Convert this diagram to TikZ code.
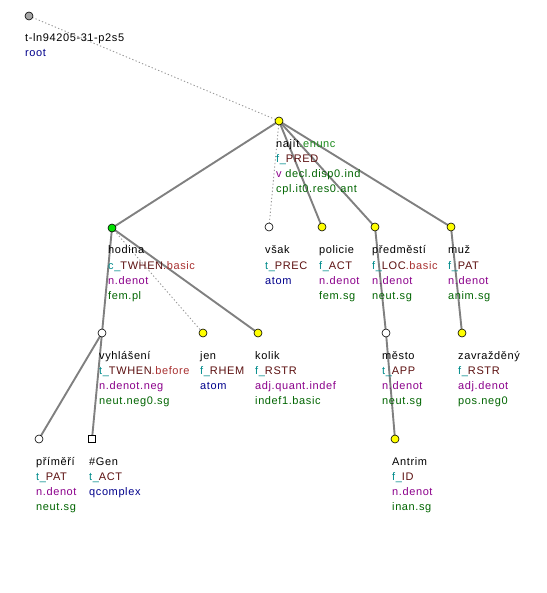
\documentclass[tikz,border=0pt]{standalone}
\usepackage{fontspec}
\setmainfont{Liberation Sans}[LetterSpace=5.5]
\definecolor{cteal}{HTML}{008B8B}
\definecolor{cfun}{HTML}{5C1010}
\definecolor{csub}{HTML}{A83030}
\definecolor{cpur}{HTML}{8B008B}
\definecolor{cgrn}{HTML}{006400}
\definecolor{cgrn2}{HTML}{1A8A1A}
\definecolor{cblu}{HTML}{00008B}
\definecolor{cyel}{HTML}{FFFF00}
\definecolor{cgn}{HTML}{00E000}
\newcommand\lns[1]{\begin{tabular}[t]{@{}l@{}}#1\end{tabular}}
\newcommand\fn[2]{\textcolor{cteal}{#1}\textcolor{cfun}{#2}}
\newcommand\pu[1]{\textcolor{cpur}{#1}}
\newcommand\gr[1]{\textcolor{cgrn}{#1}}
\newcommand\bl[1]{\textcolor{cblu}{#1}}
\tikzset{
  tnode/.style={circle,draw=black,line width=0.6pt,inner sep=0pt,minimum size=8pt},
  yel/.style={tnode,fill=cyel},
  wht/.style={tnode,fill=white},
  sq/.style={rectangle,draw=black,line width=0.6pt,fill=white,inner sep=0pt,minimum size=7pt},
  edge/.style={draw=gray,line width=1.9pt},
  dotedge/.style={draw=gray!80,line width=0.9pt,dash pattern=on 1.3pt off 2.2pt},
  lbl/.style={anchor=base west,inner sep=0pt,font=\fontsize{11}{15}\selectfont}
}
\begin{document}
\begin{tikzpicture}[x=1pt,y=-1pt]
\useasboundingbox (0,0) rectangle (546,593);
% node positions
\coordinate (root) at (29,16);
\coordinate (najit) at (279,121);
\coordinate (hodina) at (112,228);
\coordinate (vsak) at (269,227);
\coordinate (policie) at (322,227);
\coordinate (predmesti) at (375,227);
\coordinate (muz) at (451,227);
\coordinate (vyhlaseni) at (102,333);
\coordinate (jen) at (203,333);
\coordinate (kolik) at (258,333);
\coordinate (mesto) at (386,333);
\coordinate (zavrazdeny) at (462,333);
\coordinate (primeri) at (39,439);
\coordinate (gen) at (92,439);
\coordinate (antrim) at (395,439);
% edges
\path[dotedge] (root) -- (najit);
\path[edge] (najit) -- (hodina);
\path[dotedge] (najit) -- (vsak);
\path[edge] (najit) -- (policie);
\path[edge] (najit) -- (predmesti);
\path[edge] (najit) -- (muz);
\path[edge] (hodina) -- (vyhlaseni);
\path[dotedge] (hodina) -- (jen);
\path[edge] (hodina) -- (kolik);
\path[edge] (vyhlaseni) -- (primeri);
\path[edge] (vyhlaseni) -- (gen);
\path[edge] (predmesti) -- (mesto);
\path[edge] (mesto) -- (antrim);
\path[edge] (muz) -- (zavrazdeny);
% nodes on top
\node[tnode,fill=gray!70] (root-n) at (root) {};
\node[yel] (najit-n) at (najit) {};
\node[tnode,fill=cgn] (hodina-n) at (hodina) {};
\node[wht] (vsak-n) at (vsak) {};
\node[yel] (policie-n) at (policie) {};
\node[yel] (predmesti-n) at (predmesti) {};
\node[yel] (muz-n) at (muz) {};
\node[wht] (vyhlaseni-n) at (vyhlaseni) {};
\node[yel] (jen-n) at (jen) {};
\node[yel] (kolik-n) at (kolik) {};
\node[wht] (mesto-n) at (mesto) {};
\node[yel] (zavrazdeny-n) at (zavrazdeny) {};
\node[wht] (primeri-n) at (primeri) {};
\node[sq] (gen-n) at (gen) {};
\node[yel] (antrim-n) at (antrim) {};
% labels
\node[lbl] (root-l) at ([xshift=-4pt,yshift=-26pt]root) {\lns{t-ln94205-31-p2s5\\ \bl{root}}};
\node[lbl] (najit-l) at ([xshift=-3pt,yshift=-27pt]najit) {\lns{najít\textcolor{cgrn2}{.enunc}\\ \fn{f\_}{PRED}\\ \pu{v} \gr{decl.disp0.ind}\\ \gr{cpl.it0.res0.ant}}};
\node[lbl] (hodina-l) at ([xshift=-4pt,yshift=-26pt]hodina) {\lns{hodina\\ \fn{c\_}{TWHEN}\textcolor{csub}{.basic}\\ \pu{n.denot}\\ \gr{fem.pl}}};
\node[lbl] (vsak-l) at ([xshift=-4pt,yshift=-27pt]vsak) {\lns{však\\ \fn{t\_}{PREC}\\ \bl{atom}}};
\node[lbl] (policie-l) at ([xshift=-3pt,yshift=-27pt]policie) {\lns{policie\\ \fn{f\_}{ACT}\\ \pu{n.denot}\\ \gr{fem.sg}}};
\node[lbl] (predmesti-l) at ([xshift=-3pt,yshift=-27pt]predmesti) {\lns{předměstí\\ \fn{f\_}{LOC}\textcolor{csub}{.basic}\\ \pu{n.denot}\\ \gr{neut.sg}}};
\node[lbl] (muz-l) at ([xshift=-3pt,yshift=-27pt]muz) {\lns{muž\\ \fn{f\_}{PAT}\\ \pu{n.denot}\\ \gr{anim.sg}}};
\node[lbl] (vyhlaseni-l) at ([xshift=-3pt,yshift=-26pt]vyhlaseni) {\lns{vyhlášení\\ \fn{t\_}{TWHEN}\textcolor{csub}{.before}\\ \pu{n.denot.neg}\\ \gr{neut.neg0.sg}}};
\node[lbl] (jen-l) at ([xshift=-3pt,yshift=-26pt]jen) {\lns{jen\\ \fn{f\_}{RHEM}\\ \bl{atom}}};
\node[lbl] (kolik-l) at ([xshift=-3pt,yshift=-26pt]kolik) {\lns{kolik\\ \fn{f\_}{RSTR}\\ \pu{adj.quant.indef}\\ \gr{indef1.basic}}};
\node[lbl] (mesto-l) at ([xshift=-4pt,yshift=-26pt]mesto) {\lns{město\\ \fn{t\_}{APP}\\ \pu{n.denot}\\ \gr{neut.sg}}};
\node[lbl] (zavrazdeny-l) at ([xshift=-4pt,yshift=-26pt]zavrazdeny) {\lns{zavražděný\\ \fn{f\_}{RSTR}\\ \pu{adj.denot}\\ \gr{pos.neg0}}};
\node[lbl] (primeri-l) at ([xshift=-3pt,yshift=-26pt]primeri) {\lns{příměří\\ \fn{t\_}{PAT}\\ \pu{n.denot}\\ \gr{neut.sg}}};
\node[lbl] (gen-l) at ([xshift=-3pt,yshift=-26pt]gen) {\lns{\#Gen\\ \fn{t\_}{ACT}\\ \bl{qcomplex}}};
\node[lbl] (antrim-l) at ([xshift=-3pt,yshift=-26pt]antrim) {\lns{Antrim\\ \fn{f\_}{ID}\\ \pu{n.denot}\\ \gr{inan.sg}}};
\end{tikzpicture}
\end{document}
